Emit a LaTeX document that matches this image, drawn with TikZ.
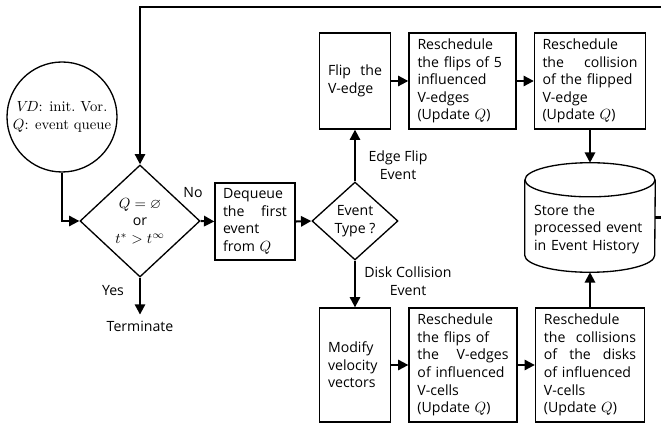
\documentclass[tikz,border=0pt]{standalone}
\usepackage{amsmath}
\usepackage{amssymb}
\usepackage{fontspec}
\setsansfont{Open Sans}
\usetikzlibrary{arrows.meta,calc,positioning,shapes.geometric}

\begin{document}
\begin{tikzpicture}[x=0.68pt, y=-0.68pt,
      every node/.style={font=\sffamily\fontsize{9.6}{12}\selectfont},
      stepbox/.style={draw, line width=0.9pt, rectangle, align=left, inner sep=0pt},
      topbox/.style={stepbox, minimum height=65.3pt},
      lowbox/.style={stepbox, minimum height=77.5pt},
      decide/.style={draw, line width=0.9pt, diamond, align=center, inner sep=0pt},
      lbl/.style={align=center, inner sep=1pt},
      arr/.style={-{Triangle[length=7pt,width=7pt]}, line width=1.4pt}
    ]
      \useasboundingbox (0,0) rectangle (661,427);

      % start and loop test
      \node[draw, line width=0.9pt, circle, minimum size=74.8pt, inner sep=0pt, align=center,
            font=\rmfamily\fontsize{10}{12}\selectfont] (start) at (62,117)
        {$V\!D$: init.\ Vor.\\$Q$: event queue};
      \node[decide, minimum width=81.6pt, minimum height=76.2pt] (emptyq) at (140,221)
        {$Q=\varnothing$\\or\\$t^{*}>t^{\infty}$};
      \node[inner sep=4pt] (term) at (140,326) {Terminate};
      \node[stepbox, minimum width=54.4pt, minimum height=52.4pt, text width=43.5pt] (dequeue) at (255,221.5)
        {Dequeue\\the\hfill first\\event\\from $Q$};
      \node[decide, minimum width=58.5pt, minimum height=53pt] (evtype) at (355,221)
        {Event\\Type ?};

      % edge flip branch
      \node[topbox, minimum width=48.3pt, text width=36.7pt] (flip) at (355,81)
        {Flip\hfill the\\V-edge};
      \node[topbox, minimum width=72.8pt, text width=61.2pt] (reflip) at (462.5,81)
        {Reschedule\\the flips of 5\\influenced\\V-edges\\(Update $Q$)};
      \node[topbox, minimum width=75.5pt, text width=64.6pt] (recoll) at (590,81)
        {Reschedule\\the\hfill collision\\of the flipped\\V-edge\\(Update $Q$)};

      % disk collision branch
      \node[lowbox, minimum width=48.3pt, text width=36.7pt] (modify) at (355,365)
        {Modify\\velocity\\vectors};
      \node[lowbox, minimum width=73.4pt, text width=61.9pt] (reflipc) at (463,365)
        {Reschedule\\the flips of\\the\hfill V-edges\\of influenced\\V-cells\\(Update $Q$)};
      \node[lowbox, minimum width=74.1pt, text width=62.6pt] (recollc) at (590,365)
        {Reschedule\\the\hfill collisions\\of\hfill the\hfill disks\\of influenced\\V-cells\\(Update $Q$)};

      % event history
      \node[rectangle, minimum width=88.4pt, minimum height=74.1pt, inner sep=0pt,
            text width=76pt, align=left] (store) at (590,217.5)
        {\rule{0pt}{23pt}Store the\\processed event\\in Event History};
      \draw[line width=0.9pt] ([yshift=-11.6pt]store.north west) -- ([yshift=11.6pt]store.south west)
        arc[start angle=180, end angle=360, x radius=44.2pt, y radius=11.6pt]
        -- ([yshift=-11.6pt]store.north east);
      \draw[line width=0.9pt] ([yshift=-11.6pt]store.north) ellipse[x radius=44.2pt, y radius=11.6pt];

      \coordinate (loop) at (668,7);

      % connectors
      \draw[arr] (start.south) |- (emptyq.west);
      \draw[arr] (emptyq.east) -- (dequeue.west);
      \draw[arr] (emptyq.south) -- (term.north);
      \draw[arr] (dequeue.east) -- (evtype.west);
      \draw[arr] (evtype.north) -- (flip.south);
      \draw[arr] (evtype.south) -- (modify.north);
      \draw[arr] (flip.east) -- (reflip.west);
      \draw[arr] (reflip.east) -- (recoll.west);
      \draw[arr] (recoll.south) -- (store.north);
      \draw[arr] (modify.east) -- (reflipc.west);
      \draw[arr] (reflipc.east) -- (recollc.west);
      \draw[arr] (recollc.north) -- (store.south);
      \draw[arr] (store.east) -| (loop) -| (emptyq.north);

      % branch labels
      \node[lbl] (no) at (193,193) {No};
      \node[lbl] (yes) at (113,291) {Yes};
      \node[lbl] (flipev) at (398,165) {Edge Flip\\Event};
      \node[lbl] (collev) at (408,281) {Disk Collision\\Event};
    \end{tikzpicture}
\end{document}
